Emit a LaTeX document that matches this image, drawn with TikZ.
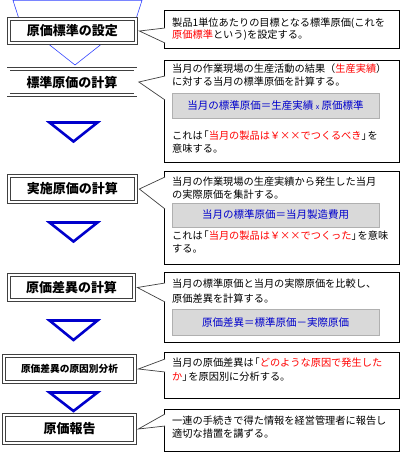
\documentclass[tikz,border=0pt]{standalone}
\usepackage{fontspec}
\setmainfont{Noto Sans CJK JP}

\definecolor{flowblue}{HTML}{0000CC}
\definecolor{thinblue}{HTML}{3344FF}
\definecolor{framegray}{HTML}{404040}
\definecolor{panelgray}{HTML}{D9D9D9}
\definecolor{paneledge}{HTML}{B0B0B0}
\definecolor{hired}{HTML}{FF0000}

\newcommand{\hl}[1]{\textcolor{hired}{#1}}
\newcommand{\lbrk}{\makebox[6pt][r]{「}}
\newcommand{\rbrk}{\makebox[6pt][l]{」}}

\tikzset{
  titlebox/.style={draw=framegray, line width=0.7pt, double=white, double distance=2.4pt,
    fill=white, minimum width=127pt, minimum height=26pt, inner sep=0pt,
    font=\fontsize{13}{15}\selectfont\bfseries},
  callbox/.style={draw=black, line width=0.8pt, fill=white, inner sep=0pt,
    minimum width=235pt},
  formula/.style={draw=paneledge, line width=0.8pt, fill=panelgray, inner sep=0pt,
    minimum width=207pt, text=flowblue, font=\fontsize{10.5}{12}\selectfont},
  txt/.style={anchor=base west, inner sep=0pt, font=\fontsize{10.2}{13}\selectfont},
  pointer/.style={draw=framegray, line width=0.7pt, fill=white},
  flowtri/.style={draw=flowblue, line width=2.6pt, line join=miter},
}

\begin{document}
\begin{tikzpicture}[x=1pt, y=-1pt]
    \useasboundingbox (0,0) rectangle (406,455);

    % --- Thin guide triangles behind the first box ---
    \draw[thinblue, line width=0.6pt] (20,22) -- (13,0.4) -- (142,0.4) -- (135,22);
    \draw[thinblue, line width=0.6pt] (32,31) -- (75,65) -- (118,31);

    % --- Step boxes (double frame) ---
    \node[titlebox, minimum height=24pt] (b1) at (72.5,31) {原価標準の設定};
    \node[titlebox] (b2) at (72,82) {標準原価の計算};
    \node[titlebox] (b3) at (72.5,189) {実施原価の計算};
    \node[titlebox, minimum width=125pt, minimum height=25pt] (b4) at (71.5,287.5) {原価差異の計算};
    \node[titlebox, minimum width=131pt, font=\fontsize{9.7}{11}\selectfont\bfseries] (b5) at (69.5,369) {原価差異の原因別分析};
    \node[titlebox, minimum width=131pt, minimum height=28pt] (b6) at (69.5,429) {原価報告};

    % --- Flow triangles between steps ---
    \draw[flowtri] (49.5,122.5) -- (97.5,122.5) -- (73.5,141.5) -- cycle;
    \draw[flowtri] (49.5,222.5) -- (97.5,222.5) -- (73.5,241.5) -- cycle;
    \draw[flowtri] (49.5,320.5) -- (97.5,320.5) -- (73.5,340) -- cycle;
    \draw[flowtri] (49.5,392.5) -- (97.5,392.5) -- (73.5,411) -- cycle;

    % --- Callout frames ---
    \node[callbox, minimum height=38pt] (c1) at (281.5,29) {};
    \node[callbox, minimum height=102pt] (c2) at (281.5,111) {};
    \node[callbox, minimum height=93pt] (c3) at (281.5,217.5) {};
    \node[callbox, minimum height=70pt] (c4) at (281.5,307) {};
    \node[callbox, minimum height=46pt] (c5) at (281.5,375) {};
    \node[callbox, minimum height=42pt] (c6) at (281.5,430) {};

    % --- Callout pointers (box -> callout) ---
    \coordinate (c1a) at (165,28);  \coordinate (c1b) at (165,43);
    \coordinate (c2a) at (165,76);  \coordinate (c2b) at (165,100);
    \coordinate (c3a) at (165,177); \coordinate (c3b) at (165,209);
    \coordinate (c4a) at (165,283); \coordinate (c4b) at (165,302);
    \coordinate (c5a) at (165,359); \coordinate (c5b) at (165,372);
    \coordinate (c6a) at (165,414); \coordinate (c6b) at (165,426);
    \path[pointer] (c1a) -- ([xshift=3pt]b1.east) -- (c1b);
    \path[pointer] (c2a) -- ([xshift=3pt]b2.east) -- (c2b);
    \path[pointer] (c3a) -- ([xshift=3pt]b3.east) -- (c3b);
    \path[pointer] (c4a) -- ([xshift=3pt]b4.east) -- (c4b);
    \path[pointer] (c5a) -- ([xshift=3pt]b5.east) -- (c5b);
    \path[pointer] (c6a) -- ([xshift=3pt]b6.east) -- (c6b);

    % --- Callout 1 ---
    \node[txt] (t1a) at (172,26) {製品1単位あたりの目標となる標準原価(これを};
    \node[txt] (t1b) at (172,38) {\hl{原価標準}という)を設定する。};

    % --- Callout 2 ---
    \node[txt] (t2a) at (172,72) {当月の作業現場の生産活動の結果（\hl{生産実績}）};
    \node[txt] (t2b) at (172,85) {に対する当月の標準原価を計算する。};
    \node[formula, minimum height=25pt] (f2) at (275.5,105.5)
        {当月の標準原価＝生産実績 {\fontsize{7}{8}\selectfont x} 原価標準};
    \node[txt] (t2c) at (172,139) {これは\lbrk\hl{当月の製品は￥××でつくるべき}\rbrk を};
    \node[txt] (t2d) at (172,152) {意味する。};

    % --- Callout 3 ---
    \node[txt] (t3a) at (172,185) {当月の作業現場の生産実績から発生した当月};
    \node[txt] (t3b) at (172,198) {の実際原価を集計する。};
    \node[formula, minimum height=24pt] (f3) at (275.5,215) {当月の標準原価＝当月製造費用};
    \node[txt] (t3c) at (172,239) {これは\lbrk\hl{当月の製品は￥××でつくった}\rbrk を意味};
    \node[txt] (t3d) at (172,252) {する。};

    % --- Callout 4 ---
    \node[txt] (t4a) at (172,287) {当月の標準原価と当月の実際原価を比較し、};
    \node[txt] (t4b) at (172,302) {原価差異を計算する。};
    \node[formula, minimum height=26pt] (f4) at (275.5,322) {原価差異＝標準原価－実際原価};

    % --- Callout 5 ---
    \node[txt] (t5a) at (172,366) {当月の原価差異は\lbrk\hl{どのような原因で発生した}};
    \node[txt] (t5b) at (172,380) {\hl{か}\rbrk を原因別に分析する。};

    % --- Callout 6 ---
    \node[txt] (t6a) at (172,424) {一連の手続きで得た情報を経営管理者に報告し};
    \node[txt] (t6b) at (172,437) {適切な措置を講ずる。};
\end{tikzpicture}
\end{document}
